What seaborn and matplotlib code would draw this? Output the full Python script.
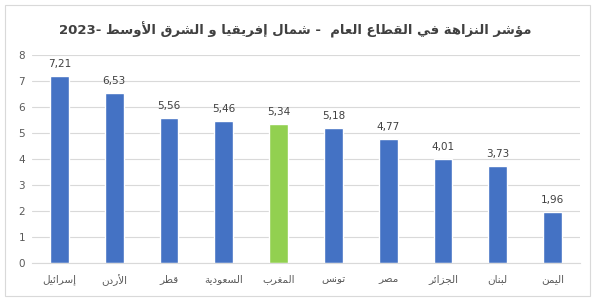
import re
import matplotlib
matplotlib.use("Agg")
import matplotlib.pyplot as plt
import seaborn as sns
import pandas as pd
from matplotlib.patches import Rectangle

# ---------------- data ----------------
countries = ["إسرائيل", "الأردن", "قطر", "السعودية", "المغرب",
             "تونس", "مصر", "الجزائر", "لبنان", "اليمن"]
values = [7.21, 6.53, 5.56, 5.46, 5.34, 5.18, 4.77, 4.01, 3.73, 1.96]
highlight = "المغرب"
title_text = "مؤشر النزاهة في القطاع العام  - شمال إفريقيا و الشرق الأوسط -2023"
yticks = [0, 1, 2, 3, 4, 5, 6, 7, 8]

# ---------------- minimal Arabic shaping ----------------
DUAL = {'\u0626': 0xFE89, '\u0628': 0xFE8F, '\u062A': 0xFE95, '\u062B': 0xFE99,
        '\u062C': 0xFE9D, '\u062D': 0xFEA1, '\u062E': 0xFEA5, '\u0633': 0xFEB1,
        '\u0634': 0xFEB5, '\u0635': 0xFEB9, '\u0636': 0xFEBD, '\u0637': 0xFEC1,
        '\u0638': 0xFEC5, '\u0639': 0xFEC9, '\u063A': 0xFECD, '\u0641': 0xFED1,
        '\u0642': 0xFED5, '\u0643': 0xFED9, '\u0644': 0xFEDD, '\u0645': 0xFEE1,
        '\u0646': 0xFEE5, '\u0647': 0xFEE9, '\u064A': 0xFEF1}
RIGHT = {'\u0622': 0xFE81, '\u0623': 0xFE83, '\u0624': 0xFE85, '\u0625': 0xFE87,
         '\u0627': 0xFE8D, '\u0629': 0xFE93, '\u062F': 0xFEA9, '\u0630': 0xFEAB,
         '\u0631': 0xFEAD, '\u0632': 0xFEAF, '\u0648': 0xFEED, '\u0649': 0xFEEF}
LAMALEF = {'\u0622': 0xFEF5, '\u0623': 0xFEF7, '\u0625': 0xFEF9, '\u0627': 0xFEFB}


def _is_letter(c):
    return c in DUAL or c in RIGHT


def shape(s):
    out = []
    n = len(s)
    i = 0
    while i < n:
        c = s[i]
        prev_join = i > 0 and s[i - 1] in DUAL
        if c == '\u0644' and i + 1 < n and s[i + 1] in LAMALEF:
            out.append(chr(LAMALEF[s[i + 1]] + (1 if prev_join else 0)))
            i += 2
            continue
        if c in DUAL:
            next_join = i + 1 < n and _is_letter(s[i + 1])
            off = {(False, False): 0, (True, False): 1,
                   (False, True): 2, (True, True): 3}[(prev_join, next_join)]
            out.append(chr(DUAL[c] + off))
        elif c in RIGHT:
            out.append(chr(RIGHT[c] + (1 if prev_join else 0)))
        else:
            out.append(c)
        i += 1
    return ''.join(out)


def visual(s):
    shaped = shape(s)
    runs = re.split(r'(\d+)', shaped)
    runs = [r if re.fullmatch(r'\d+', r) else r[::-1] for r in runs if r]
    return ''.join(runs[::-1])


# ---------------- plot ----------------
sns.set_theme(style="white")
plt.rcParams['font.family'] = ['DejaVu Sans']

labels = [visual(c) for c in countries]
df = pd.DataFrame({"country": labels, "value": values})
palette = {visual(c): ("#92D050" if c == highlight else "#4472C4") for c in countries}

fig = plt.figure(figsize=(6.02, 3.01), dpi=100)
fig.patch.set_facecolor("white")
ax = fig.add_axes([32 / 602, 38 / 301, 548 / 602, 208 / 301])

sns.barplot(data=df, x="country", y="value", hue="country", palette=palette,
            width=0.34, legend=False, ax=ax, saturation=1)

ax.set_ylim(0, 8)
ax.set_xlim(-0.5, len(values) - 0.5)
ax.set_yticks(yticks)
ax.set_yticklabels([str(t) for t in yticks])
ax.yaxis.grid(True, color="#D9D9D9", linewidth=0.8)
ax.set_axisbelow(True)
for sp in ["top", "right", "left"]:
    ax.spines[sp].set_visible(False)
ax.spines["bottom"].set_color("#D9D9D9")
ax.spines["bottom"].set_linewidth(0.8)
ax.tick_params(axis="both", length=0, colors="#595959", labelsize=7.5)
ax.tick_params(axis="x", pad=8)
ax.tick_params(axis="y", pad=5)
ax.set_xlabel("")
ax.set_ylabel("")

for cont in ax.containers:
    ax.bar_label(cont, labels=[f"{v:.2f}".replace(".", ",") for v in cont.datavalues],
                 padding=5, fontsize=7.5, color="#404040")

fig.text(295 / 602, 1 - 30 / 301, visual(title_text), ha="center", va="center",
         fontsize=9.5, fontweight="bold", color="#404040")

fig.patches.append(Rectangle((5 / 602, 5 / 301), 585 / 602, 291 / 301,
                             transform=fig.transFigure, fill=False,
                             edgecolor="#D9D9D9", linewidth=0.8))

fig.savefig("out.png", dpi=100, facecolor="white")
